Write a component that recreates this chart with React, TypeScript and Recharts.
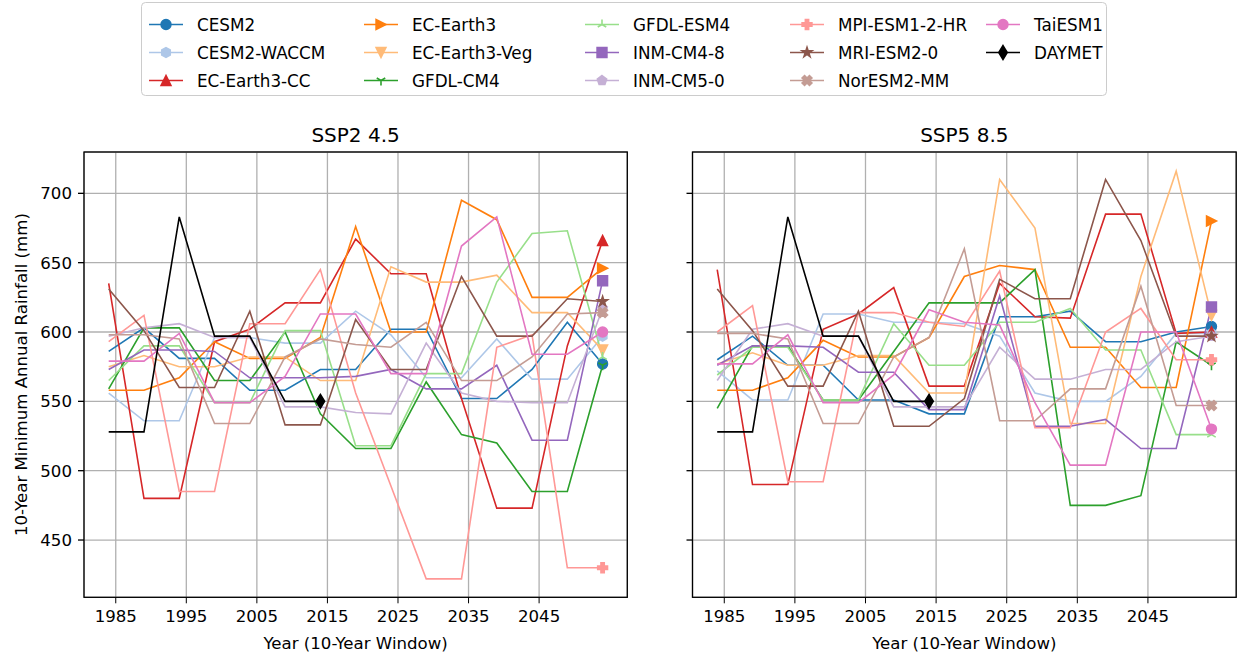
import React from "react";
import { LineChart, Line, XAxis, YAxis, CartesianGrid } from "recharts";

const FONT = '"DejaVu Sans", "Liberation Sans", sans-serif';

const years = [1984, 1989, 1994, 1999, 2004, 2009, 2014, 2019, 2024, 2029, 2034, 2039, 2044, 2049, 2054];
const xTicks = [1985, 1995, 2005, 2015, 2025, 2035, 2045];
const yTicks = [450, 500, 550, 600, 650, 700];

// SSP2 4.5 — 10-year minimum annual rainfall (mm)
const ssp245CESM2 = [586, 603, 581, 581, 558, 558, 573, 573, 602, 602, 552, 552, 573, 607, 577];
const ssp245CESM2WACCM = [556, 536, 536, 596, 596, 592, 592, 615, 598, 567, 567, 595, 566, 566, 597];
const ssp245ECEarth3CC = [635, 480, 480, 593, 602, 621, 621, 667, 642, 642, 552, 473, 473, 590, 666];
const ssp245ECEarth3 = [558, 558, 567, 593, 581, 581, 596, 676, 600, 600, 695, 681, 625, 625, 646];
const ssp245ECEarth3Veg = [575, 583, 575, 575, 582, 582, 565, 565, 647, 636, 636, 641, 614, 614, 587];
const ssp245GFDLCM4 = [559, 603, 603, 565, 565, 600, 541, 516, 516, 564, 526, 520, 485, 485, 576];
const ssp245GFDLESM4 = [565, 590, 590, 549, 549, 601, 601, 518, 518, 570, 570, 636, 671, 673, 582];
const ssp245INMCM48 = [573, 587, 587, 586, 567, 567, 567, 568, 573, 559, 559, 576, 522, 522, 637];
const ssp245INMCM50 = [597, 603, 606, 596, 596, 546, 546, 542, 541, 592, 556, 550, 549, 549, 617];
const ssp245MPI = [593, 612, 485, 485, 606, 606, 645, 556, 489, 422, 422, 589, 598, 430, 430];
const ssp245MRI = [631, 601, 560, 560, 615, 533, 533, 609, 573, 573, 640, 597, 597, 624, 622];
const ssp245NorESM = [598, 598, 595, 534, 534, 582, 595, 591, 589, 607, 565, 565, 582, 613, 614];
const ssp245TaiESM = [579, 579, 599, 549, 549, 568, 613, 613, 570, 570, 662, 683, 584, 584, 600];

// SSP5 8.5
const ssp585CESM2 = [580, 597, 576, 576, 551, 551, 541, 541, 611, 611, 615, 593, 593, 600, 604];
const ssp585CESM2WACCM = [572, 551, 551, 613, 613, 607, 607, 606, 597, 556, 550, 550, 568, 599, 599];
const ssp585ECEarth3CC = [645, 490, 490, 602, 613, 632, 561, 561, 635, 611, 610, 685, 685, 599, 600];
const ssp585ECEarth3 = [558, 558, 567, 594, 582, 582, 596, 640, 648, 645, 589, 589, 560, 560, 680];
const ssp585ECEarth3Veg = [577, 585, 576, 576, 583, 583, 556, 556, 710, 675, 534, 534, 640, 716, 612];
const ssp585GFDLCM4 = [545, 590, 590, 551, 551, 586, 621, 621, 621, 645, 475, 475, 482, 593, 576];
const ssp585GFDLESM4 = [569, 589, 589, 551, 551, 606, 576, 576, 607, 607, 617, 587, 587, 526, 526];
const ssp585INMCM48 = [576, 590, 590, 589, 571, 571, 544, 544, 626, 532, 532, 537, 516, 516, 618];
const ssp585INMCM50 = [565, 602, 606, 597, 597, 546, 546, 546, 589, 566, 566, 573, 573, 593, 597];
const ssp585MPI = [600, 619, 492, 492, 614, 614, 607, 604, 644, 531, 531, 600, 617, 580, 580];
const ssp585MRI = [631, 601, 561, 561, 615, 532, 532, 552, 638, 624, 624, 710, 666, 597, 597];
const ssp585NorESM = [599, 599, 595, 534, 534, 582, 596, 660, 536, 536, 559, 559, 633, 547, 547];
const ssp585TaiESM = [577, 577, 598, 549, 549, 569, 616, 607, 605, 549, 504, 504, 600, 600, 530];

// observed record (1984–2014 windows)
const daymet = [528, 528, 683, 597, 597, 550, 550];

const models = [
  { name: "CESM2", color: "#1f77b4", marker: "o", ssp245: ssp245CESM2, ssp585: ssp585CESM2 },
  { name: "CESM2-WACCM", color: "#aec7e8", marker: "h", ssp245: ssp245CESM2WACCM, ssp585: ssp585CESM2WACCM },
  { name: "EC-Earth3-CC", color: "#d62728", marker: "^", ssp245: ssp245ECEarth3CC, ssp585: ssp585ECEarth3CC },
  { name: "EC-Earth3", color: "#ff7f0e", marker: ">", ssp245: ssp245ECEarth3, ssp585: ssp585ECEarth3 },
  { name: "EC-Earth3-Veg", color: "#ffbb78", marker: "v", ssp245: ssp245ECEarth3Veg, ssp585: ssp585ECEarth3Veg },
  { name: "GFDL-CM4", color: "#2ca02c", marker: "1", ssp245: ssp245GFDLCM4, ssp585: ssp585GFDLCM4 },
  { name: "GFDL-ESM4", color: "#98df8a", marker: "2", ssp245: ssp245GFDLESM4, ssp585: ssp585GFDLESM4 },
  { name: "INM-CM4-8", color: "#9467bd", marker: "s", ssp245: ssp245INMCM48, ssp585: ssp585INMCM48 },
  { name: "INM-CM5-0", color: "#c5b0d5", marker: "p", ssp245: ssp245INMCM50, ssp585: ssp585INMCM50 },
  { name: "MPI-ESM1-2-HR", color: "#ff9896", marker: "P", ssp245: ssp245MPI, ssp585: ssp585MPI },
  { name: "MRI-ESM2-0", color: "#8c564b", marker: "*", ssp245: ssp245MRI, ssp585: ssp585MRI },
  { name: "NorESM2-MM", color: "#c49c94", marker: "X", ssp245: ssp245NorESM, ssp585: ssp585NorESM },
  { name: "TaiESM1", color: "#e377c2", marker: "o", ssp245: ssp245TaiESM, ssp585: ssp585TaiESM },
];

const series = [
  ...models.map((m) => ({ name: m.name, color: m.color, marker: m.marker })),
  { name: "DAYMET", color: "#000000", marker: "d" },
];

function buildRows(key: "ssp245" | "ssp585") {
  return years.map((year, i) => {
    const row: Record<string, number | null> = { year };
    models.forEach((m) => {
      row[m.name] = m[key][i];
    });
    row.DAYMET = i < daymet.length ? daymet[i] : null;
    return row;
  });
}

function Marker({ shape, x, y, color }: { shape: string; x: number; y: number; color: string }) {
  const s = 4.9;
  const filled = { fill: color, stroke: color, strokeWidth: 1.6, strokeLinejoin: "miter" as const };
  const poly = (pts: number[][]) => (
    <polygon points={pts.map(([a, b]) => `${x + a},${y + b}`).join(" ")} {...filled} />
  );
  const regular = (n: number, r: number, inner?: number) => {
    const pts: number[][] = [];
    const count = inner ? n * 2 : n;
    for (let k = 0; k < count; k++) {
      const ang = -Math.PI / 2 + (k * 2 * Math.PI) / count;
      const rr = inner && k % 2 === 1 ? inner : r;
      pts.push([rr * Math.cos(ang), rr * Math.sin(ang)]);
    }
    return poly(pts);
  };
  switch (shape) {
    case "o":
      return <circle cx={x} cy={y} r={s} {...filled} />;
    case "h":
      return regular(6, s);
    case "p":
      return regular(5, s);
    case "*":
      return regular(5, s * 1.05, s * 0.4);
    case "^":
      return poly([[0, -s], [-s, s], [s, s]]);
    case "v":
      return poly([[0, s], [-s, -s], [s, -s]]);
    case ">":
      return poly([[s, 0], [-s, -s], [-s, s]]);
    case "s":
      return poly([[-s, -s], [s, -s], [s, s], [-s, s]]);
    case "d":
      return poly([[0, -6.9], [4.2, 0], [0, 6.9], [-4.2, 0]]);
    case "P": {
      const k = 9.8 / 6;
      const u = [[-1, -3], [1, -3], [1, -1], [3, -1], [3, 1], [1, 1], [1, 3], [-1, 3], [-1, 1], [-3, 1], [-3, -1], [-1, -1]];
      return poly(u.map(([a, b]) => [a * k, b * k]));
    }
    case "X": {
      const k = 9.8 / 4;
      const u = [[-1, -2], [0, -1], [1, -2], [2, -1], [1, 0], [2, 1], [1, 2], [0, 1], [-1, 2], [-2, 1], [-1, 0], [-2, -1]];
      return poly(u.map(([a, b]) => [a * k, b * k]));
    }
    case "1":
      return (
        <path
          d={`M${x},${y}L${x},${y + s}M${x},${y}L${x - 0.866 * s},${y - 0.5 * s}M${x},${y}L${x + 0.866 * s},${y - 0.5 * s}`}
          stroke={color}
          strokeWidth={1.6}
          fill="none"
        />
      );
    case "2":
      return (
        <path
          d={`M${x},${y}L${x},${y - s}M${x},${y}L${x - 0.866 * s},${y + 0.5 * s}M${x},${y}L${x + 0.866 * s},${y + 0.5 * s}`}
          stroke={color}
          strokeWidth={1.6}
          fill="none"
        />
      );
    default:
      return null;
  }
}

const tickStyle = { fill: "#000", fontSize: 16.6, fontFamily: FONT };

// shared y axis: the second panel keeps its tick marks but drops the labels
const blankTick = (p: any) => <g key={`t-${p.index}`} />;

function Panel({ rows, showYTicks, width, marginLeft, marginRight, yWidth }: any) {
  return (
    <LineChart
      width={width}
      height={514}
      data={rows}
      margin={{ top: 12, right: marginRight, bottom: 26.7, left: marginLeft }}
    >
      <CartesianGrid stroke="#b0b0b0" strokeWidth={1.3} />
      <XAxis
        dataKey="year"
        type="number"
        domain={[1980.5, 2057.5]}
        ticks={xTicks}
        interval={0}
        allowDataOverflow
        axisLine={false}
        stroke="#000"
        tickSize={6}
        tickMargin={7}
        height={30}
        tick={tickStyle}
      />
      <YAxis
        type="number"
        domain={[408.7, 729.8]}
        ticks={yTicks}
        interval={0}
        allowDataOverflow
        axisLine={false}
        stroke="#000"
        tickLine={{ stroke: "#000", strokeWidth: 1.3 }}
        tickSize={6}
        tickMargin={6}
        width={yWidth}
        tick={showYTicks ? tickStyle : blankTick}
      />
      {series.map((s) => {
        const last = s.name === "DAYMET" ? daymet.length - 1 : years.length - 1;
        return (
          <Line
            key={s.name}
            dataKey={s.name}
            type="linear"
            stroke={s.color}
            strokeWidth={1.6}
            isAnimationActive={false}
            activeDot={false}
            dot={(p: any) =>
              p.index === last && p.cy != null ? (
                <Marker key={`m-${p.index}`} shape={s.marker} x={p.cx} y={p.cy} color={s.color} />
              ) : (
                <g key={`m-${p.index}`} />
              )
            }
          />
        );
      })}
    </LineChart>
  );
}

// legend grid: 5 columns filled top-to-bottom, 3 rows
const legendTextX = [197, 412, 633, 838, 1034];
const legendRowY = [24.5, 52.5, 80.5];

export default function App() {
  const rows245 = buildRows("ssp245");
  const rows585 = buildRows("ssp585");
  return (
    <div style={{ position: "absolute", left: 0, top: 0, width: 1238, height: 654, background: "#fff", fontFamily: FONT }}>
      <div style={{ position: "absolute", left: 0, top: 140 }}>
        <Panel rows={rows245} showYTicks width={640} marginLeft={24} marginRight={12.7} yWidth={60} />
      </div>
      <div style={{ position: "absolute", left: 640, top: 140 }}>
        <Panel rows={rows585} showYTicks={false} width={598} marginLeft={42.5} marginRight={1.8} yWidth={10} />
      </div>
      <svg width={1238} height={654} style={{ position: "absolute", left: 0, top: 0, pointerEvents: "none" }}>
        {/* axes frames */}
        <rect x={84} y={152} width={543.3} height={445.3} fill="none" stroke="#000" strokeWidth={1.3} />
        <rect x={692.5} y={152} width={543.7} height={445.3} fill="none" stroke="#000" strokeWidth={1.3} />
        <text x={355.6} y={135} textAnchor="middle" dominantBaseline="central" fontSize={20} fill="#000">
          SSP2 4.5
        </text>
        <text x={964.3} y={135} textAnchor="middle" dominantBaseline="central" fontSize={20} fill="#000">
          SSP5 8.5
        </text>
        <text x={355.6} y={643} textAnchor="middle" dominantBaseline="central" fontSize={16.6} fill="#000">
          Year (10-Year Window)
        </text>
        <text x={964.3} y={643} textAnchor="middle" dominantBaseline="central" fontSize={16.6} fill="#000">
          Year (10-Year Window)
        </text>
        <text
          x={22}
          y={374.6}
          textAnchor="middle"
          dominantBaseline="central"
          fontSize={16.6}
          fill="#000"
          transform="rotate(-90 22 374.6)"
        >
          10-Year Minimum Annual Rainfall (mm)
        </text>
        {/* legend */}
        <rect x={141.5} y={2.5} width={965} height={93} rx={4} fill="#fff" stroke="#cccccc" strokeWidth={1} />
        {series.map((s, i) => {
          const col = Math.floor(i / 3);
          const row = i % 3;
          const tx = legendTextX[col];
          const cy = legendRowY[row];
          const x0 = tx - 48;
          const x1 = tx - 14;
          return (
            <g key={s.name}>
              <line x1={x0} y1={cy} x2={x1} y2={cy} stroke={s.color} strokeWidth={1.6} />
              <Marker shape={s.marker} x={(x0 + x1) / 2} y={cy} color={s.color} />
              <text x={tx} y={cy} dominantBaseline="central" fontSize={16.8} fill="#000">
                {s.name}
              </text>
            </g>
          );
        })}
      </svg>
    </div>
  );
}
